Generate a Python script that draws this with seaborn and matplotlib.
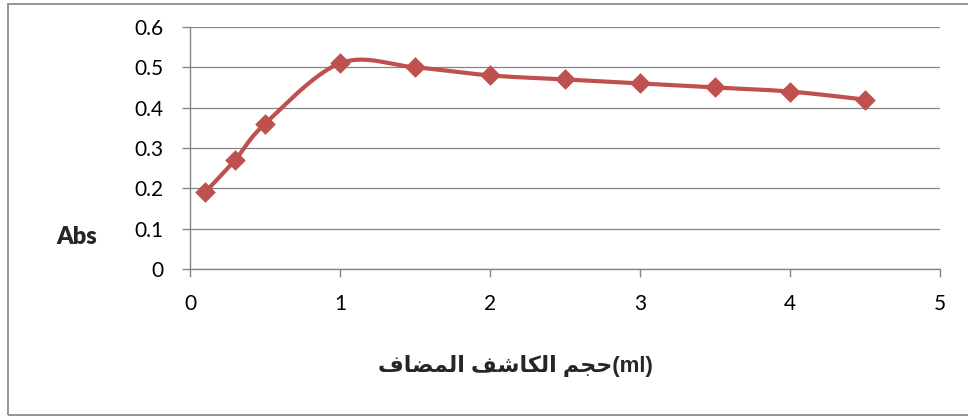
import numpy as np
import pandas as pd
import matplotlib
matplotlib.use("Agg")
import matplotlib.pyplot as plt
import seaborn as sns
from matplotlib.patches import Rectangle
from matplotlib.ticker import FixedLocator, FuncFormatter

# Absorbance versus volume of added reagent
volume_ml = [0.1, 0.3, 0.5, 1.0, 1.5, 2.0, 2.5, 3.0, 3.5, 4.0, 4.5]
absorbance = [0.19, 0.27, 0.36, 0.51, 0.50, 0.48, 0.47, 0.46, 0.45, 0.44, 0.42]
x_ticks = [0, 1, 2, 3, 4, 5]
y_ticks = [0, 0.1, 0.2, 0.3, 0.4, 0.5, 0.6]

# Arabic title "حجم الكاشف المضاف" written with presentation forms in visual
# (left-to-right) order, because matplotlib does not shape right-to-left text.
w_mudaf = "\uFED1\uFE8E\uFEC0\uFEE4\uFEDF\uFE8D"
w_kashif = "\uFED2\uFEB7\uFE8E\uFEDC\uFEDF\uFE8D"
w_hajm = "\uFEE2\uFEA0\uFEA3"
x_title = w_mudaf + " " + w_kashif + " " + w_hajm + "(ml)"
y_title = "Abs"

LINE_RED = "#C0504D"
GRID_GREY = "#868686"

sns.set_theme(style="white")
plt.rcParams["font.family"] = ["Lato", "DejaVu Sans"]

W, H = 968, 417
fig = plt.figure(figsize=(W / 100, H / 100), dpi=100)
ax = fig.add_axes([190 / W, 1 - 269 / H, 750 / W, 242 / H])

# Chart-area frame
fig.patches.append(Rectangle((8 / W, 1 - 415 / H), 1.2, (415 - 4) / H,
                             transform=fig.transFigure, fill=False,
                             edgecolor="#8C8C8C", linewidth=1.3))


def bezier_smooth(x, y, sx, sy, n=40):
    """Smooth curve through the points using cubic Bezier segments
    (Catmull-Rom tangents) computed in screen-proportional space."""
    P = np.column_stack([np.asarray(x) * sx, np.asarray(y) * sy])
    ext = np.vstack([P[0], P, P[-1]])
    t = np.linspace(0, 1, n)[:, None]
    parts = []
    for i in range(len(P) - 1):
        p0, p3 = P[i], P[i + 1]
        c1 = p0 + (ext[i + 2] - ext[i]) / 6
        c2 = p3 - (ext[i + 3] - ext[i + 1]) / 6
        seg = ((1 - t) ** 3 * p0 + 3 * (1 - t) ** 2 * t * c1
               + 3 * (1 - t) * t ** 2 * c2 + t ** 3 * p3)
        parts.append(seg if i == 0 else seg[1:])
    S = np.vstack(parts)
    return S[:, 0] / sx, S[:, 1] / sy


sx = 750 / 5
sy = 242 / 0.6
cx, cy = bezier_smooth(volume_ml, absorbance, sx, sy)
curve = pd.DataFrame({"x": cx, "y": cy})
points = pd.DataFrame({"volume": volume_ml, "abs": absorbance})

sns.lineplot(data=curve, x="x", y="y", sort=False, estimator=None,
             color=LINE_RED, linewidth=3.0, ax=ax, zorder=3)
sns.scatterplot(data=points, x="volume", y="abs", marker="D", s=100,
                color=LINE_RED, edgecolor=LINE_RED, linewidth=0.5,
                ax=ax, zorder=4, clip_on=False)

ax.set_xlim(0, 5)
ax.set_ylim(0, 0.6)
ax.xaxis.set_major_locator(FixedLocator(x_ticks))
ax.yaxis.set_major_locator(FixedLocator(y_ticks))
ax.yaxis.set_major_formatter(FuncFormatter(lambda v, p: f"{v:g}"))
ax.xaxis.set_major_formatter(FuncFormatter(lambda v, p: f"{v:g}"))
ax.set_xlabel("")
ax.set_ylabel("")

ax.grid(axis="y", color=GRID_GREY, linewidth=0.9)
ax.grid(axis="x", visible=False)
ax.set_axisbelow(True)
for side in ("top", "right"):
    ax.spines[side].set_visible(False)
for side in ("left", "bottom"):
    ax.spines[side].set_color(GRID_GREY)
    ax.spines[side].set_linewidth(1.0)

ax.tick_params(axis="both", which="major", direction="out", length=6,
               width=1.0, color=GRID_GREY, labelsize=15, labelcolor="black",
               left=True, bottom=True)
ax.tick_params(axis="y", pad=13)
ax.tick_params(axis="x", pad=12)

fig.text(77 / W, 1 - 237 / H, y_title, ha="center", va="center",
         fontsize=17, fontweight="heavy", family=["Lato", "DejaVu Sans"])
fig.text(515 / W, 1 - 366 / H, x_title, ha="center", va="center",
         fontsize=16, fontweight="bold",
         family=["Liberation Sans", "DejaVu Sans"])

fig.savefig("out.png", dpi=100)
